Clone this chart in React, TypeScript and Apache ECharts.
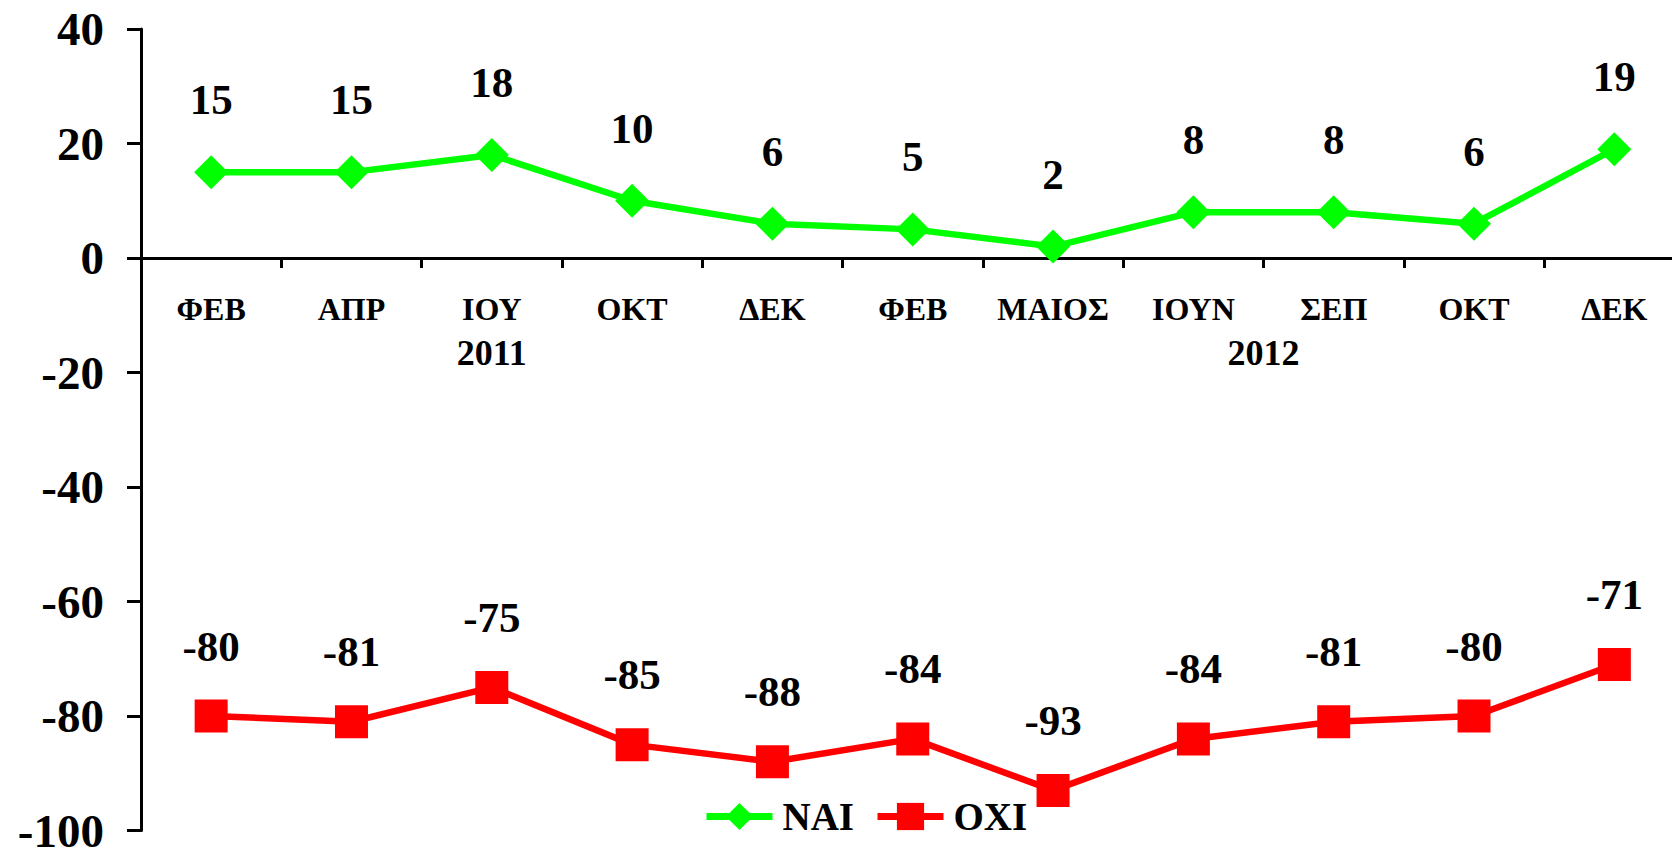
import React, { useEffect, useRef } from "react";
import * as echarts from "echarts";

const categories = ["ΦΕΒ", "ΑΠΡ", "ΙΟΥ", "ΟΚΤ", "ΔΕΚ", "ΦΕΒ", "ΜΑΙΟΣ", "ΙΟΥΝ", "ΣΕΠ", "ΟΚΤ", "ΔΕΚ"];
const naiValues = [15, 15, 18, 10, 6, 5, 2, 8, 8, 6, 19];
const oxiValues = [-80, -81, -75, -85, -88, -84, -93, -84, -81, -80, -71];
const yearLabels = ["2011", "2012"];
const yearPositions = [2, 7.5];
const yTicks = { min: -100, max: 40, interval: 20 };

const FONT = "'Liberation Serif', 'Times New Roman', serif";

const GRID_TOP = 29;
const GRID_HEIGHT = 801.5;
// distance from the grid bottom up to the value 0, derived from the y range
const ZERO_OFFSET = -(GRID_HEIGHT * (0 - yTicks.min)) / (yTicks.max - yTicks.min);

export default function App() {
  const ref = useRef<HTMLDivElement>(null);
  useEffect(() => {
    if (!ref.current) return;
    const chart = echarts.init(ref.current, null, { renderer: "svg" });
    const labelStyle = (distance: number) => ({
      show: true,
      position: "top" as const,
      distance,
      fontSize: 43,
      fontWeight: "bold" as const,
      fontFamily: FONT,
      color: "#000",
    });
    chart.setOption({
      animation: false,
      backgroundColor: "#fff",
      grid: {
        left: 141,
        top: GRID_TOP,
        width: 1543.5,
        height: GRID_HEIGHT,
        containLabel: false,
        outerBoundsMode: "none",
      },
      legend: {
        left: 703,
        top: 797,
        padding: 0,
        itemWidth: 66,
        itemHeight: 34,
        itemGap: 20,
        lineStyle: { width: 7 },
        textStyle: { fontSize: 39, fontWeight: "bold", fontFamily: FONT, color: "#000", padding: [0, 0, 0, 5] },
        data: ["NAI", "OXI"],
      },
      xAxis: [
        {
          type: "category",
          data: categories,
          boundaryGap: true,
          position: "bottom",
          offset: ZERO_OFFSET,
          axisLine: { onZero: false, lineStyle: { color: "#000", width: 3 } },
          axisTick: { show: true, inside: false, length: 10, lineStyle: { color: "#000", width: 3 } },
          axisLabel: {
            interval: 0,
            margin: 35,
            fontSize: 32,
            fontWeight: "bold",
            fontFamily: FONT,
            color: "#000",
          },
          splitLine: { show: false },
        },
        {
          type: "value",
          min: -0.5,
          max: 10.5,
          position: "bottom",
          offset: ZERO_OFFSET,
          axisLine: { show: false, onZero: false },
          axisTick: { show: false },
          splitLine: { show: false },
          axisLabel: {
            customValues: yearPositions,
            formatter: (v: number) => {
              const i = yearPositions.indexOf(v);
              return i >= 0 ? yearLabels[i] : "";
            },
            margin: 77,
            fontSize: 36,
            fontWeight: "bold",
            fontFamily: FONT,
            color: "#000",
          },
        },
      ],
      yAxis: {
        type: "value",
        min: yTicks.min,
        max: yTicks.max,
        interval: yTicks.interval,
        axisLine: { show: true, onZero: false, lineStyle: { color: "#000", width: 3 } },
        axisTick: { show: true, inside: false, length: 14, lineStyle: { color: "#000", width: 3 } },
        axisLabel: {
          margin: 37,
          fontSize: 47,
          lineHeight: 40,
          fontWeight: "bold",
          fontFamily: FONT,
          color: "#000",
        },
        splitLine: { show: false },
      },
      series: [
        {
          name: "NAI",
          type: "line",
          data: naiValues,
          symbol: "diamond",
          symbolSize: 34,
          lineStyle: { color: "#00FF00", width: 6.5 },
          itemStyle: { color: "#00FF00" },
          label: labelStyle(34),
        },
        {
          name: "OXI",
          type: "line",
          data: oxiValues,
          symbol: "rect",
          symbolSize: 33,
          lineStyle: { color: "#FF0000", width: 6.5 },
          itemStyle: { color: "#FF0000" },
          label: labelStyle(32),
        },
      ],
    });
    return () => chart.dispose();
  }, []);
  return (
    <div
      ref={ref}
      style={{ position: "fixed", left: 0, top: 0, width: 1672, height: 853, background: "#fff" }}
    />
  );
}
